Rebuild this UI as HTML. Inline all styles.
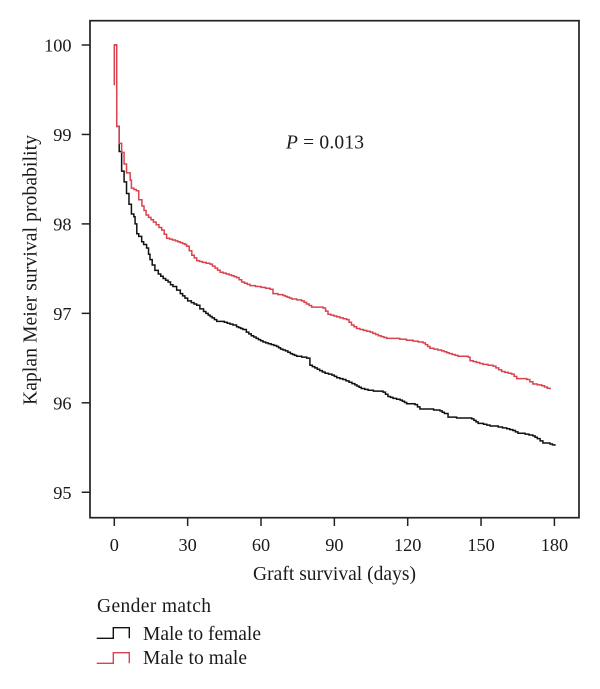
<!DOCTYPE html>
<html lang="en">
<head>
<meta charset="utf-8">
<title>Kaplan Meier survival chart</title>
<style>
html,body{margin:0;padding:0;background:#fff;}
svg{display:block;}
text{font-family:"Liberation Serif",serif;fill:#1a1a1a;font-size:18.3px;}
.title{font-size:19.5px;}
</style>
</head>
<body>
<svg id="chart" xmlns="http://www.w3.org/2000/svg" width="600" height="689" viewBox="0 0 600 689">
  <rect x="90" y="20.7" width="489" height="497" fill="none" stroke="#222" stroke-width="1.7"/>
  <g id="x-axis"></g>
  <g id="y-axis"></g>
  <g id="series"></g>
  <text class="title" x="286" y="148.5" xml:space="preserve" textLength="78" lengthAdjust="spacing"><tspan font-style="italic">P</tspan> = 0.013</text>
  <text class="title" x="334.5" y="580" text-anchor="middle" textLength="163" lengthAdjust="spacing">Graft survival (days)</text>
  <text class="title" transform="translate(36.5 270) rotate(-90)" text-anchor="middle" textLength="270" lengthAdjust="spacing">Kaplan Meier survival probability</text>
  <g>
    <text class="title" x="97" y="612" textLength="114" lengthAdjust="spacing">Gender match</text>
    <path d="M96.7 638.3H113.3V627.7H129.3V638.3" fill="none" stroke="#111" stroke-width="1.4"/>
    <text class="title" x="143" y="640" textLength="118" lengthAdjust="spacing">Male to female</text>
    <path d="M96.7 663.3H113.3V652.7H129.3V663.3" fill="none" stroke="#d9434f" stroke-width="1.4"/>
    <text class="title" x="143" y="664" textLength="104" lengthAdjust="spacing">Male to male</text>
  </g>
</svg>
<script>
const xTicks = [0, 30, 60, 90, 120, 150, 180];
const yTicks = [95, 96, 97, 98, 99, 100];

const femaleDays = [0,1,2,3,4,5,6,7,8,8.5,9.2,10,11.2,12,13.2,14,14.6,15.5,16.6,18,20,21,22,23,24,25.5,27,28.9,30,31.5,33.7,35,36.5,38.4,40,41.9,45,48.5,50,52.6,54,56,58,60.8,63,66.4,68,70,72,74.6,78.7,80,82,84,86.2,89,91,93.5,96,98.4,101,103.8,106,109.9,111.9,114,116.9,119.6,123,125,128,133.2,135,136.5,140,146.2,148.8,151,153.7,157,160.5,163,165.1,168,171.2,173,175.3,178.2,180.2];
const femaleSurvival = [100,99.09,98.81,98.59,98.47,98.34,98.22,98.11,98.08,98.0,97.89,97.86,97.8,97.77,97.73,97.66,97.6,97.54,97.48,97.44,97.39,97.37,97.35,97.32,97.3,97.26,97.22,97.17,97.14,97.12,97.09,97.05,97.02,96.98,96.95,96.91,96.9,96.87,96.85,96.82,96.79,96.75,96.72,96.68,96.66,96.63,96.6,96.58,96.55,96.52,96.5,96.42,96.39,96.36,96.33,96.31,96.28,96.26,96.23,96.2,96.16,96.14,96.13,96.12,96.07,96.05,96.03,95.99,95.98,95.93,95.93,95.91,95.88,95.84,95.83,95.82,95.77,95.76,95.74,95.73,95.71,95.69,95.66,95.65,95.63,95.6,95.55,95.54,95.52];

const maleDays = [0,0,1,2,3,4,5,6.5,7,9,10,11.3,13,16,19.4,21.4,25,28.9,29.6,31.7,33.7,36,39.1,43.3,47,50,52.1,55.5,60,63.7,64.9,69,72.6,76.6,80.7,85.4,87.4,91,95,97,99.1,104.6,108,111.4,116.8,122.2,126.3,129.1,133.9,137,140.6,144.7,145.5,150.8,154.9,158.4,162.5,164.6,168.7,171.2,174.8,178.2];
const maleSurvival = [99.55,100,99.09,98.9,98.8,98.67,98.57,98.49,98.4,98.37,98.27,98.2,98.1,98.02,97.93,97.84,97.81,97.77,97.75,97.65,97.59,97.57,97.55,97.46,97.43,97.4,97.35,97.31,97.29,97.27,97.22,97.2,97.16,97.14,97.07,97.06,96.99,96.96,96.93,96.87,96.83,96.79,96.75,96.72,96.71,96.69,96.67,96.61,96.58,96.55,96.52,96.51,96.47,96.43,96.41,96.35,96.32,96.27,96.26,96.21,96.19,96.15];

const svgNS = 'http://www.w3.org/2000/svg';
const xScale = d => 114.3 + d * 2.445;
const yScale = v => 45 + (100 - v) * 89.45;

// Long gaps are drawn as fine stairs (about 2.5px wide) so the curve reads as a dense Kaplan-Meier staircase.
function stepPath(days, vals) {
  let d = 'M' + xScale(days[0]).toFixed(2) + ' ' + yScale(vals[0]).toFixed(2);
  for (let i = 1; i < days.length; i++) {
    const x0 = xScale(days[i - 1]), x1 = xScale(days[i]);
    const y0 = yScale(vals[i - 1]), y1 = yScale(vals[i]);
    const n = Math.max(1, Math.min(Math.round((x1 - x0) / 2.5), Math.round((y1 - y0) / 0.8)));
    for (let k = 1; k <= n; k++) {
      d += 'H' + (x0 + (x1 - x0) * k / n).toFixed(2) + 'V' + (y0 + (y1 - y0) * k / n).toFixed(2);
    }
  }
  return d;
}

const seriesGroup = document.getElementById('series');

const femaleLine = document.createElementNS(svgNS, 'path');


femaleLine.setAttribute('d', stepPath(femaleDays, femaleSurvival));
femaleLine.setAttribute('fill', 'none');
femaleLine.setAttribute('stroke', '#111');
femaleLine.setAttribute('stroke-width', '1.5');
seriesGroup.appendChild(femaleLine);

const maleLine = document.createElementNS(svgNS, 'path');


maleLine.setAttribute('d', stepPath(maleDays, maleSurvival));
maleLine.setAttribute('fill', 'none');
maleLine.setAttribute('stroke', '#d9434f');
maleLine.setAttribute('stroke-width', '1.5');
seriesGroup.appendChild(maleLine);

const xAxis = document.getElementById('x-axis');
xTicks.forEach(t => {
  const tick = document.createElementNS(svgNS, 'line');
  
  
  tick.setAttribute('x1', xScale(t));
  tick.setAttribute('x2', xScale(t));
  tick.setAttribute('y1', 517.7);
  tick.setAttribute('y2', 526);
  tick.setAttribute('stroke', '#222');
  tick.setAttribute('stroke-width', '1.5');
  xAxis.appendChild(tick);
  const label = document.createElementNS(svgNS, 'text');
  
  
  label.setAttribute('x', xScale(t));
  label.setAttribute('y', 551);
  label.setAttribute('text-anchor', 'middle');
  label.textContent = t;
  xAxis.appendChild(label);
});

const yAxis = document.getElementById('y-axis');
yTicks.forEach(t => {
  const tick = document.createElementNS(svgNS, 'line');
  
  
  tick.setAttribute('x1', 81.7);
  tick.setAttribute('x2', 90);
  tick.setAttribute('y1', yScale(t));
  tick.setAttribute('y2', yScale(t));
  tick.setAttribute('stroke', '#222');
  tick.setAttribute('stroke-width', '1.5');
  yAxis.appendChild(tick);
  const label = document.createElementNS(svgNS, 'text');
  
  
  label.setAttribute('x', 71.5);
  label.setAttribute('y', yScale(t) + 6.5);
  label.setAttribute('text-anchor', 'end');
  label.textContent = t;
  yAxis.appendChild(label);
});
</script>
</body>
</html>
